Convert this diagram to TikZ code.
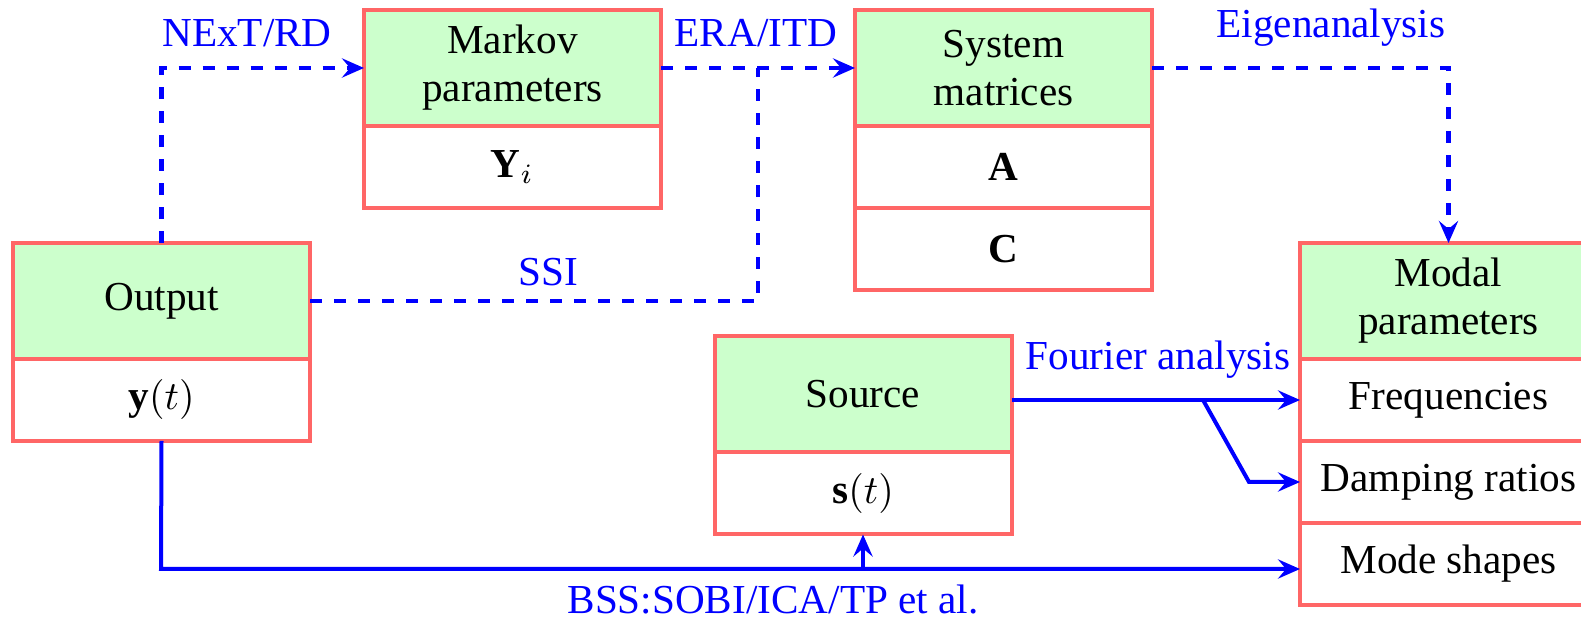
\documentclass[tikz,border=0pt]{standalone}
\usepackage{fontspec}
\setmainfont{Liberation Serif}
\usetikzlibrary{arrows.meta}
\definecolor{boxgreen}{HTML}{CCFFCC}
\definecolor{boxred}{HTML}{FF6666}
\tikzset{
  head/.style={draw=boxred, fill=boxgreen, line width=1pt, outer sep=0pt, minimum width=74.25pt, minimum height=29pt, align=center, inner sep=0pt, font=\fontsize{10.3pt}{12pt}\selectfont},
  cell/.style={draw=boxred, fill=white, line width=1pt, outer sep=0pt, minimum width=74.25pt, minimum height=20.5pt, align=center, inner sep=0pt, anchor=north, font=\fontsize{10.3pt}{12pt}\selectfont},
  tip/.style={-{Stealth[length=5.5pt,width=4.8pt,inset=2pt]}},
  dline/.style={draw=blue, line width=1.1pt, dashed},
  sline/.style={draw=blue, line width=1pt},
  lbl/.style={text=blue, inner sep=0pt, font=\fontsize{10.3pt}{12pt}\selectfont},
}
\begin{document}
\begin{tikzpicture}[x=0.25pt,y=-0.25pt]
\clip (0,0) rectangle (1581,617);
% boxes
\node[head] (out) at (161.5,301) {Output};
\node[cell] (outy) at (out.south) {$\mathbf{y}(t)$};
\node[head] (mk) at (512.5,68) {Markov\\parameters};
\node[cell] (mky) at (mk.south) {$\mathbf{Y}_i$};
\node[head] (sys) at (1003.5,68) {System\\matrices};
\node[cell] (sysa) at (sys.south) {$\mathbf{A}$};
\node[cell] (sysc) at (sysa.south) {$\mathbf{C}$};
\node[head] (src) at (863,394.5) {Source};
\node[cell] (srcs) at (src.south) {$\mathbf{s}(t)$};
\node[head] (mod) at (1448.5,301) {Modal\\parameters};
\node[cell] (freq) at (mod.south) {Frequencies};
\node[cell] (damp) at (freq.south) {Damping ratios};
\node[cell] (mode) at (damp.south) {Mode shapes};
% coordinates
\coordinate (j) at (758,68);
\coordinate (b1) at (1203,400);
\coordinate (b2) at (1249,482);
\coordinate (bl) at (161,569);
% dashed connectors
\draw[dline,tip] (out.north) |- (mk.west);
\draw[dline,tip] (mk.east) -- (sys.west);
\draw[dline] (out.east) -| (j);
\draw[dline,tip] (sys.east) -| (mod.north);
% solid connectors
\draw[sline,tip] (freq.west -| src.east) -- (freq.west);
\draw[sline,tip] (b1) -- (b2) -- (damp.west);
\draw[sline,tip] (outy.south) -- (bl) -- (bl -| mode.west);
\draw[sline,tip] (bl -| srcs.south) -- (srcs.south);
% labels
\node[lbl] (l1) at (247,33) {NExT/RD};
\node[lbl] (l2) at (756,33) {ERA/ITD};
\node[lbl] (l3) at (1331,28) {Eigenanalysis};
\node[lbl] (l4) at (548,272) {SSI};
\node[lbl] (l5) at (1158,360) {Fourier analysis};
\node[lbl] (l6) at (773,600) {BSS:SOBI/ICA/TP et al.};
\end{tikzpicture}
\end{document}
